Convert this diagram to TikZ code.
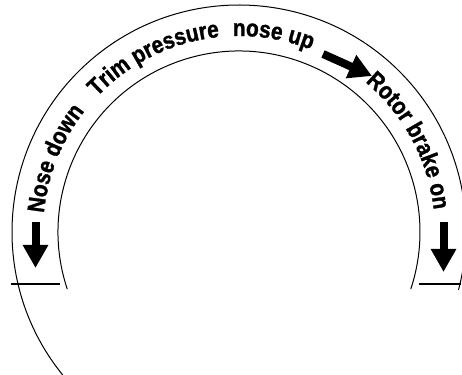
\documentclass[tikz,border=0pt]{standalone}
\usepackage{fontspec}
\setmainfont{Liberation Sans}
\newfontfamily\arcfam{Liberation Sans Bold}[FakeStretch=0.87,FakeBold=1.2]
\usetikzlibrary{decorations.text,arrows.meta}
\newcommand\arcfont{\arcfam\fontsize{24}{28}\selectfont}
\begin{document}
\begin{tikzpicture}[x=1pt,y=1pt,
  band/.style={line width=1pt},
  tick/.style={line width=1.3pt},
  arctext/.style={decoration={text along path, text={|\arcfont|#1}}, decorate},
  bigarrow/.style={line width=8pt, -{Triangle[length=23pt,width=24pt]}}]
\useasboundingbox (0,0) rectangle (462,374);
\clip (0,0) rectangle (462,374);
\coordinate (C) at (239,142);
% band arcs
\draw[band] (C) ++(222:227) arc[start angle=222, end angle=-14.8, radius=227];
\draw[band] (C) ++(198.4:181) arc[start angle=198.4, end angle=-18.4, radius=181];
% horizontal ticks
\coordinate (L1) at (11,90);
\coordinate (L2) at (60,90);
\coordinate (R1) at (419,90);
\coordinate (R2) at (461,90);
\draw[tick] (L1) -- (L2);
\draw[tick] (R1) -- (R2);
% texts along the arc
\path[arctext={Nose down}] (C) ++(174.5:196) arc[start angle=174.5, end angle=120, radius=196];
\path[arctext={Trim pressure}] (C) ++(136.4:196) arc[start angle=136.4, end angle=80, radius=196];
\path[arctext={nose up}] (C) ++(91.8:196) arc[start angle=91.8, end angle=55, radius=196];
\path[arctext={Rotor brake on}] (C) ++(49.9:196) arc[start angle=49.9, end angle=0, radius=196];
% arrows
\coordinate (A1s) at (35.5,152);
\coordinate (A1e) at (35.5,106);
\coordinate (A2s) at (443.5,152);
\coordinate (A2e) at (443.5,102);
\coordinate (A3s) at (323,320);
\coordinate (A3e) at (372,298);
\draw[bigarrow] (A1s) -- (A1e);
\draw[bigarrow] (A2s) -- (A2e);
\draw[bigarrow] (A3s) -- (A3e);
\end{tikzpicture}
\end{document}
